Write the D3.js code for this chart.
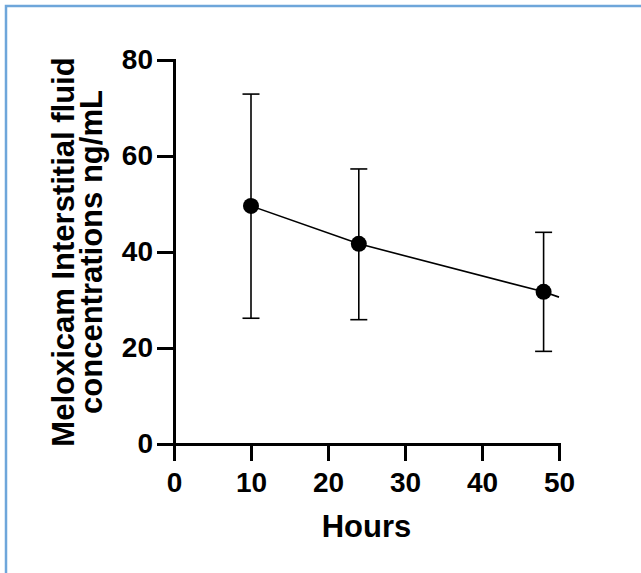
<!DOCTYPE html>
<html>
<head>
<meta charset="utf-8">
<script src="https://cdn.jsdelivr.net/npm/d3@7"></script>
<style>
  body { margin: 0; background: #fff; }
  svg { display: block; }
  .tick text { font-family: "Liberation Sans", Arial, sans-serif; font-size: 28px; font-weight: bold; fill: #000; }
  .axis-title { font-family: "Liberation Sans", Arial, sans-serif; font-size: 31px; font-weight: bold; fill: #000; }
</style>
</head>
<body>
<svg></svg>
<script>
const width = 641;
const height = 573;

const hours = [10, 24, 48];
const meanConc = [49.6, 41.7, 31.7];
const upperConc = [72.9, 57.3, 44.1];
const lowerConc = [26.2, 25.9, 19.3];
// connecting line runs on past the last point to the axis end
const lineHours = [10, 24, 48, 50];
const lineConc = [49.6, 41.7, 31.7, 30.6];
const xTicks = [0, 10, 20, 30, 40, 50];
const yTicks = [0, 20, 40, 60, 80];

const margin = {top: 60, right: 82, bottom: 129, left: 174};
const innerWidth = width - margin.left - margin.right;
const innerHeight = height - margin.top - margin.bottom;

const svg = d3.select('svg')
  .attr('width', width)
  .attr('height', height);

// blue frame (top and left edges only)
svg.append('path')
  .attr('d', `M6,${height} L6,6 L${width},6`)
  .attr('fill', 'none')
  .attr('stroke', '#6ea6da')
  .attr('stroke-width', 2.5);

const xScale = d3.scaleLinear().domain([0, 50]).range([0, innerWidth]);
const yScale = d3.scaleLinear().domain([0, 80]).range([innerHeight, 0]);

const g = svg.append('g')
  .attr('transform', `translate(${margin.left}, ${margin.top})`);

const xAxis = g.append('g')
  .attr('transform', `translate(0, ${innerHeight})`)
  .call(d3.axisBottom(xScale)
    .tickValues(xTicks)
    .tickSize(17)
    .tickSizeOuter(0)
    .tickPadding(11));

const yAxis = g.append('g')
  .call(d3.axisLeft(yScale)
    .tickValues(yTicks)
    .tickSize(17)
    .tickSizeOuter(0)
    .tickPadding(4));

[xAxis, yAxis].forEach(a => {
  a.attr('font-family', null).attr('font-size', null);
  a.select('.domain').attr('stroke-width', 3).attr('stroke-linecap', 'square');
  a.selectAll('.tick line').attr('stroke-width', 3);
});

const points = hours.map((h, i) => ({h, m: meanConc[i], hi: upperConc[i], lo: lowerConc[i]}));

// error bars
const capW = 8.5;
const bars = g.append('g')
  .attr('stroke', '#000')
  .attr('stroke-width', 1.6);

bars.selectAll('.err')
  .data(points)
  .join('line')
    .attr('x1', d => xScale(d.h))
    .attr('x2', d => xScale(d.h))
    .attr('y1', d => yScale(d.hi))
    .attr('y2', d => yScale(d.lo));

bars.selectAll('.cap-hi')
  .data(points)
  .join('line')
    .attr('x1', d => xScale(d.h) - capW)
    .attr('x2', d => xScale(d.h) + capW)
    .attr('y1', d => yScale(d.hi))
    .attr('y2', d => yScale(d.hi));

bars.selectAll('.cap-lo')
  .data(points)
  .join('line')
    .attr('x1', d => xScale(d.h) - capW)
    .attr('x2', d => xScale(d.h) + capW)
    .attr('y1', d => yScale(d.lo))
    .attr('y2', d => yScale(d.lo));

const lineGen = d3.line()
  .x((d, i) => xScale(lineHours[i]))
  .y(d => yScale(d));

g.append('path')
  .attr('d', lineGen(lineConc))
  .attr('fill', 'none')
  .attr('stroke', '#000')
  .attr('stroke-width', 1.6);

g.selectAll('circle')
  .data(points)
  .join('circle')
    .attr('cx', d => xScale(d.h))
    .attr('cy', d => yScale(d.m))
    .attr('r', 8)
    .attr('fill', '#000');

// titles
g.append('text')
  .attr('class', 'axis-title')
  .attr('x', innerWidth / 2)
  .attr('y', innerHeight + 93)
  .attr('text-anchor', 'middle')
  .text('Hours');

const yTitle = g.append('text')
  .attr('class', 'axis-title')
  .attr('transform', `translate(-100, ${innerHeight / 2}) rotate(-90)`)
  .attr('text-anchor', 'middle');

yTitle.append('tspan').attr('x', 0).attr('y', 0).text('Meloxicam Interstitial fluid');
yTitle.append('tspan').attr('x', 0).attr('y', 28).text('concentrations ng/mL');
</script>
</body>
</html>
